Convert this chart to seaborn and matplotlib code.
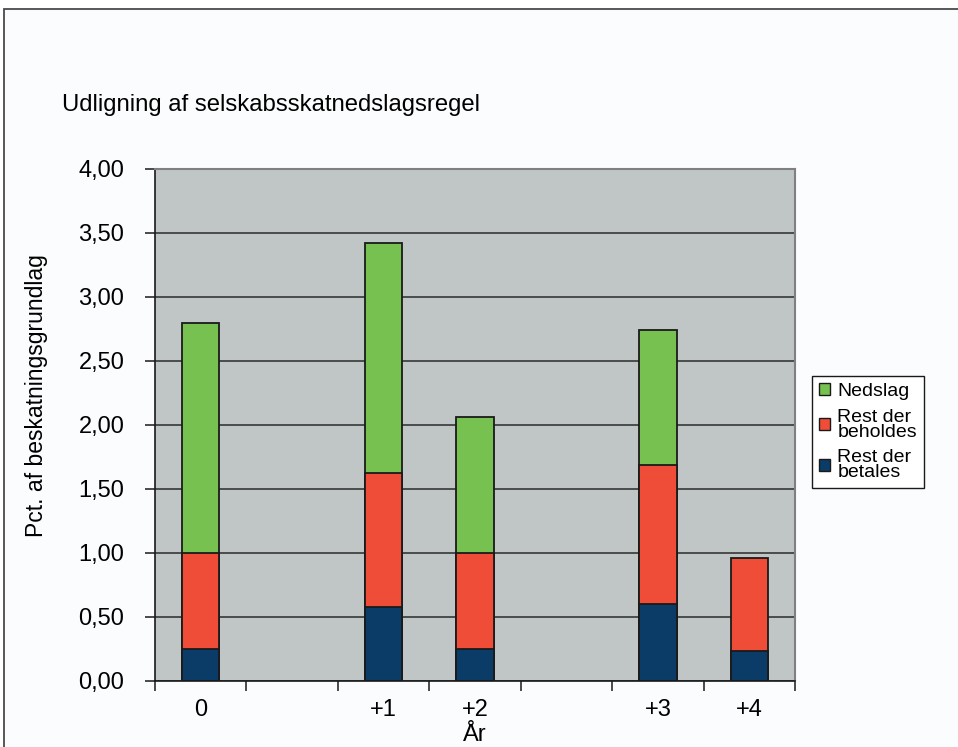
import numpy as np
import pandas as pd
import matplotlib
matplotlib.use("Agg")
import matplotlib.pyplot as plt
import seaborn as sns
from matplotlib.patches import Patch, Rectangle
from matplotlib.ticker import FuncFormatter

# data
years = ["0", "+1", "+2", "+3", "+4"]
rest_betales = [0.25, 0.575, 0.25, 0.60, 0.235]
rest_beholdes = [0.75, 1.05, 0.75, 1.09, 0.725]
nedslag = [1.80, 1.80, 1.06, 1.05, 0.0]

# category slots on the x axis (two empty slots)
slots = ["0", "gap1", "+1", "+2", "gap2", "+3", "+4"]
slot_labels = ["0", "", "+1", "+2", "", "+3", "+4"]

green = "#77C151"
red = "#EF4D38"
navy = "#0B3C67"
plot_bg = "#C0C6C6"

plt.rcParams["font.family"] = ["Liberation Sans", "DejaVu Sans"]

df = pd.DataFrame({"year": years,
                   "blue": rest_betales,
                   "red": rest_beholdes,
                   "green": nedslag})
df["lvl2"] = df["blue"] + df["red"]
df["lvl3"] = df["lvl2"] + df["green"]

fig = plt.figure(figsize=(9.58, 7.47), dpi=100, facecolor="white")

# outer chart frame
fig.patches.append(Rectangle((4 / 958, -0.1), 1.2, 1.1 - 9 / 747,
                             transform=fig.transFigure, facecolor="#FBFCFD",
                             edgecolor="#4a4a4a", lw=1.3, zorder=-5))

ax = fig.add_axes([155 / 958, 66 / 747, 640 / 958, 512 / 747])
ax.set_facecolor(plot_bg)
ax.set_axisbelow(True)

kw = dict(x="year", order=slots, width=0.41, edgecolor="#1a1a1a",
          linewidth=1.3, ax=ax)
sns.barplot(data=df[df["green"] > 0], y="lvl3", color=green, saturation=1, **kw)
sns.barplot(data=df, y="lvl2", color=red, saturation=1, **kw)
sns.barplot(data=df, y="blue", color=navy, saturation=1, **kw)

ax.set_ylim(0, 4)
ax.set_xlim(-0.5, 6.5)
ax.set_yticks(np.arange(0, 4.01, 0.5))
ax.yaxis.set_major_formatter(FuncFormatter(lambda v, p: f"{v:.2f}".replace(".", ",")))
ax.grid(axis="y", color="#2b2b2b", lw=1.1)
ax.grid(axis="x", visible=False)

ax.set_xticks(range(len(slots)))
ax.set_xticklabels(slot_labels)
ax.set_xticks(np.arange(-0.5, len(slots), 1), minor=True)
ax.tick_params(axis="x", which="major", length=0, labelsize=17, pad=13)
ax.tick_params(axis="x", which="minor", length=7, color="#1a1a1a", width=1.1)
ax.tick_params(axis="y", length=7, color="#1a1a1a", width=1.1, labelsize=17, pad=15)

for s in ["left", "bottom"]:
    ax.spines[s].set_color("#1a1a1a")
    ax.spines[s].set_linewidth(1.2)
for s in ["top", "right"]:
    ax.spines[s].set_color("#808080")
    ax.spines[s].set_linewidth(1.5)

ax.set_ylabel("Pct. af beskatningsgrundlag", fontsize=16.5)
ax.yaxis.set_label_coords(-0.185, 0.557)
ax.yaxis.label.set_va("center")
ax.set_xlabel("År", fontsize=17)
ax.xaxis.set_label_coords(0.5, -0.106)
ax.xaxis.label.set_va("center")

fig.text(62 / 958, 1 - 105 / 747, "Udligning af selskabsskatnedslagsregel",
         fontsize=17.2, va="center", ha="left")

handles = [Patch(facecolor=green, edgecolor="#1a1a1a", lw=1),
           Patch(facecolor=red, edgecolor="#1a1a1a", lw=1),
           Patch(facecolor=navy, edgecolor="#1a1a1a", lw=1)]
labels = ["Nedslag", "Rest der\nbeholdes", "Rest der\nbetales"]
leg = ax.legend(handles, labels, loc="upper left",
                bbox_to_anchor=(812 / 958, 1 - 376 / 747),
                bbox_transform=fig.transFigure, fontsize=14,
                frameon=True, fancybox=False, edgecolor="#1a1a1a",
                facecolor="white", framealpha=1, handlelength=0.6,
                handleheight=0.6, handletextpad=0.35, labelspacing=0.45,
                borderpad=0.35, borderaxespad=0)
leg.get_frame().set_linewidth(1.0)
for t in leg.get_texts():
    t.set_linespacing(0.85)

fig.savefig("out.png", dpi=100)
